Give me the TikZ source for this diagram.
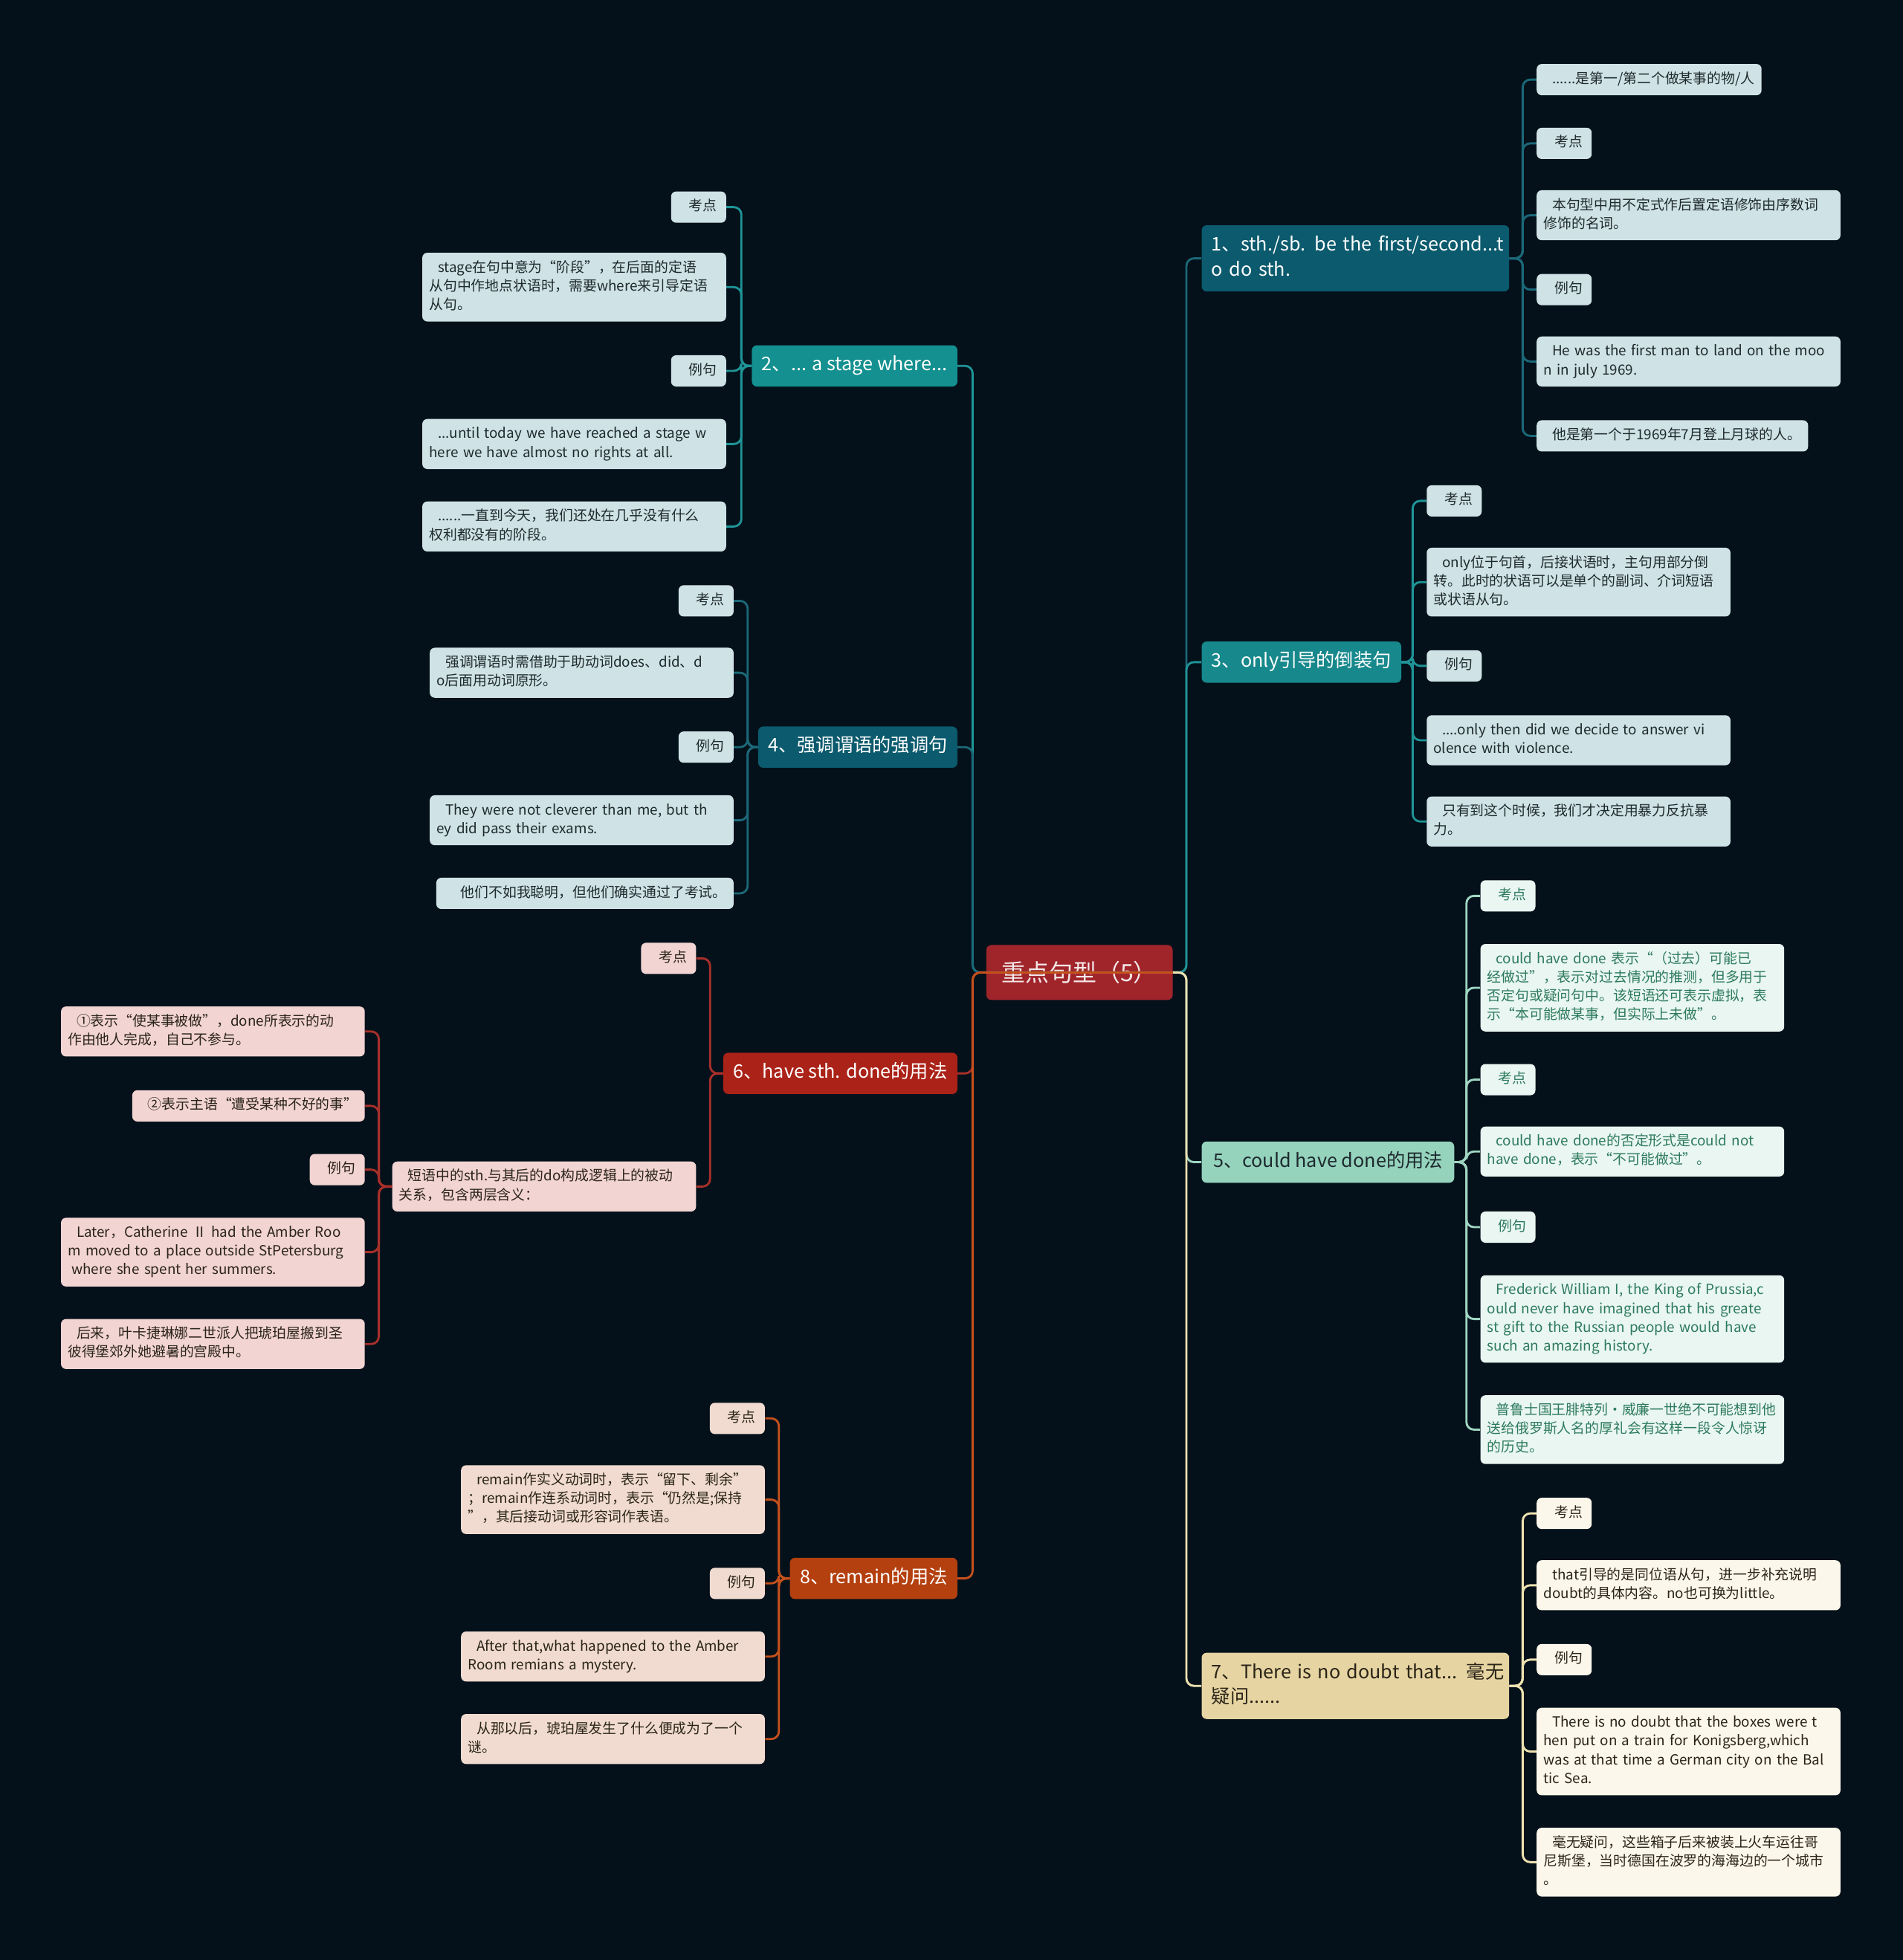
\documentclass[tikz,border=0pt]{standalone}
\usepackage{fontspec}
\setmainfont{Noto Sans CJK SC}
\usetikzlibrary{calc}
\definecolor{bgc}{HTML}{04111A}
\definecolor{cRoot}{HTML}{A0252B}
\definecolor{cRootInk}{HTML}{F4E8E8}
\definecolor{cTealDark}{HTML}{0B5A6D}
\definecolor{cTeal}{HTML}{17888C}
\definecolor{cTealMid}{HTML}{13908F}
\definecolor{cMint}{HTML}{95D3BD}
\definecolor{cCream}{HTML}{E6D4A2}
\definecolor{cRed}{HTML}{AB2318}
\definecolor{cOrange}{HTML}{B4400F}
\definecolor{lBlue}{HTML}{CFE2E5}
\definecolor{lMint}{HTML}{E9F6F1}
\definecolor{lCream}{HTML}{FBF7EA}
\definecolor{lPink}{HTML}{F2D4D3}
\definecolor{lPeach}{HTML}{F1DBD0}
\definecolor{inkDark}{HTML}{1E2A2E}
\definecolor{inkGreen}{HTML}{2D7A5E}
\definecolor{inkBrown}{HTML}{2A2418}
\definecolor{kLineDark}{HTML}{1B6878}
\definecolor{kLineTeal}{HTML}{1F9497}
\definecolor{kLineMint}{HTML}{9FD6C2}
\definecolor{kLineCream}{HTML}{EEE2B0}
\definecolor{kLineRed}{HTML}{A8302A}
\definecolor{kLineOrange}{HTML}{C4501C}
\newcommand{\ind}{\hspace*{7pt}}
\tikzset{
    topicbox/.style={rectangle, rounded corners=4pt, fill=cRoot, text=cRootInk,
        minimum width=149pt, minimum height=44pt, inner sep=0pt,
        font=\fontsize{19}{24}\selectfont},
    branchbox/.style={rectangle, rounded corners=4pt, align=left, inner xsep=8pt, inner ysep=6.5pt,
        font=\fontsize{15}{20}\selectfont,
        execute at begin node=\strut, execute at end node=\strut},
    leafbox/.style={rectangle, rounded corners=4pt, align=left, inner xsep=5.5pt, inner ysep=5pt,
        font=\fontsize{11.2}{15}\selectfont,
        execute at begin node=\strut, execute at end node=\strut},
    wideleaf/.style={leafbox, text width=232pt},
    tagbox/.style={leafbox, minimum width=44pt},
    link/.style={line width=1.7pt, rounded corners=6pt},
    bluefill/.style={fill=lBlue, text=inkDark},
    mintfill/.style={fill=lMint, text=inkGreen},
    creamfill/.style={fill=lCream, text=inkBrown},
    pinkfill/.style={fill=lPink, text=inkBrown},
    peachfill/.style={fill=lPeach, text=inkBrown},
}
\begin{document}
\begin{tikzpicture}[x=1pt, y=-1pt]
    \fill[bgc] (0,0) rectangle (1522,1568);
    % trunks and junction columns
    \coordinate (tl) at (778,0);
    \coordinate (tr) at (949,0);
    \coordinate (j1) at (1218,0);
    \coordinate (j3) at (1130,0);
    \coordinate (j5) at (1173,0);
    \coordinate (j7) at (1218,0);
    \coordinate (j2) at (593,0);
    \coordinate (j4) at (598,0);
    \coordinate (j6) at (568,0);
    \coordinate (j6s) at (303,0);
    \coordinate (j8) at (623,0);

    \node[topicbox] (root) at (863.5,778) {重点句型（5）};

    % right side
    \node[branchbox, text width=230pt, fill=cTealDark, text=white, anchor=north west] (b1) at (961,180)
        {\mbox{1、sth./sb. be the first/second...t}\\o do sth.};
    \node[leafbox, bluefill, anchor=north west] (c1a) at (1229,51) {\ind{}......是第一/第二个做某事的物/人};
    \node[tagbox, bluefill, anchor=north west] (c1b) at (1229,102) {\ind{}考点};
    \node[wideleaf, bluefill, anchor=north west] (c1c) at (1229,152) {\ind{}本句型中用不定式作后置定语修饰由序数词\\修饰的名词。};
    \node[tagbox, bluefill, anchor=north west] (c1d) at (1229,219) {\ind{}例句};
    \node[wideleaf, bluefill, anchor=north west] (c1e) at (1229,269) {\ind{}He was the first man to land on the moo\\n in july 1969.};
    \node[leafbox, bluefill, anchor=north west] (c1f) at (1229,336) {\ind{}他是第一个于1969年7月登上月球的人。};

    \node[branchbox, fill=cTeal, text=white, minimum width=158pt, anchor=north west] (b3) at (961,513)
        {3、only引导的倒装句};
    \node[tagbox, bluefill, anchor=north west] (c3a) at (1141,388) {\ind{}考点};
    \node[wideleaf, bluefill, anchor=north west] (c3b) at (1141,438) {\ind{}only位于句首，后接状语时，主句用部分倒\\转。此时的状语可以是单个的副词、介词短语\\或状语从句。};
    \node[tagbox, bluefill, anchor=north west] (c3c) at (1141,520) {\ind{}例句};
    \node[wideleaf, bluefill, anchor=north west] (c3d) at (1141,572) {\ind{}....only then did we decide to answer vi\\olence with violence.};
    \node[wideleaf, bluefill, anchor=north west] (c3e) at (1141,637) {\ind{}只有到这个时候，我们才决定用暴力反抗暴\\力。};

    \node[branchbox, fill=cMint, text=inkDark, minimum width=202pt, anchor=north west] (b5) at (961,913)
        {5、could have done的用法};
    \node[tagbox, mintfill, anchor=north west] (c5a) at (1184,704) {\ind{}考点};
    \node[wideleaf, mintfill, anchor=north west] (c5b) at (1184,755) {\ind{}could have done 表示“（过去）可能已\\经做过”，表示对过去情况的推测，但多用于\\否定句或疑问句中。该短语还可表示虚拟，表\\示“本可能做某事，但实际上未做”。};
    \node[tagbox, mintfill, anchor=north west] (c5c) at (1184,851) {\ind{}考点};
    \node[wideleaf, mintfill, anchor=north west] (c5d) at (1184,901) {\ind{}could have done的否定形式是could not\\have done，表示“不可能做过”。};
    \node[tagbox, mintfill, anchor=north west] (c5e) at (1184,969) {\ind{}例句};
    \node[wideleaf, mintfill, anchor=north west] (c5f) at (1184,1020) {\ind{}Frederick William I, the King of Prussia,c\\ould never have imagined that his greate\\st gift to the Russian people would have\\such an amazing history.};
    \node[wideleaf, mintfill, anchor=north west] (c5g) at (1184,1116) {\ind{}普鲁士国王腓特列•威廉一世绝不可能想到他\\送给俄罗斯人名的厚礼会有这样一段令人惊讶\\的历史。};

    \node[branchbox, text width=230pt, fill=cCream, text=inkBrown, anchor=north west] (b7) at (961,1322)
        {\mbox{7、There is no doubt that... 毫无}\\疑问......};
    \node[tagbox, creamfill, anchor=north west] (c7a) at (1229,1198) {\ind{}考点};
    \node[wideleaf, creamfill, anchor=north west] (c7b) at (1229,1248) {\ind{}that引导的是同位语从句，进一步补充说明\\doubt的具体内容。no也可换为little。};
    \node[tagbox, creamfill, anchor=north west] (c7c) at (1229,1315) {\ind{}例句};
    \node[wideleaf, creamfill, anchor=north west] (c7d) at (1229,1366) {\ind{}There is no doubt that the boxes were t\\hen put on a train for Konigsberg,which\\was at that time a German city on the Bal\\tic Sea.};
    \node[wideleaf, creamfill, anchor=north west] (c7e) at (1229,1462) {\ind{}毫无疑问，这些箱子后来被装上火车运往哥\\尼斯堡，当时德国在波罗的海海边的一个城市\\。};

    % left side
    \node[branchbox, fill=cTealMid, text=white, minimum width=162pt, anchor=north east] (b2) at (766,276)
        {2、... a stage where...};
    \node[tagbox, bluefill, anchor=north east] (c2a) at (581,153) {\ind{}考点};
    \node[wideleaf, bluefill, anchor=north east] (c2b) at (581,202) {\ind{}stage在句中意为“阶段”，在后面的定语\\从句中作地点状语时，需要where来引导定语\\从句。};
    \node[tagbox, bluefill, anchor=north east] (c2c) at (581,284) {\ind{}例句};
    \node[wideleaf, bluefill, anchor=north east] (c2d) at (581,335) {\ind{}...until today we have reached a stage w\\here we have almost no rights at all.};
    \node[wideleaf, bluefill, anchor=north east] (c2e) at (581,401) {\ind{}......一直到今天，我们还处在几乎没有什么\\权利都没有的阶段。};

    \node[branchbox, fill=cTealDark, text=white, minimum width=156pt, anchor=north east] (b4) at (766,581)
        {4、强调谓语的强调句};
    \node[tagbox, bluefill, anchor=north east] (c4a) at (587,468) {\ind{}考点};
    \node[wideleaf, bluefill, anchor=north east] (c4b) at (587,518) {\ind{}强调谓语时需借助于助动词does、did、d\\o后面用动词原形。};
    \node[tagbox, bluefill, anchor=north east] (c4c) at (587,585) {\ind{}例句};
    \node[wideleaf, bluefill, anchor=north east] (c4d) at (587,636) {\ind{}They were not cleverer than me, but th\\ey did pass their exams.};
    \node[leafbox, bluefill, anchor=north east] (c4e) at (587,702) {\ind{}\ind{}他们不如我聪明，但他们确实通过了考试。};

    \node[branchbox, fill=cRed, text=white, minimum width=187pt, anchor=north east] (b6) at (766,842)
        {6、have sth. done的用法};
    \node[tagbox, pinkfill, anchor=north east] (c6a) at (557,754) {\ind{}考点};
    \node[wideleaf, pinkfill, anchor=north east] (c6b) at (557,929) {\ind{}短语中的sth.与其后的do构成逻辑上的被动\\关系，包含两层含义：};
    \node[wideleaf, pinkfill, anchor=north east] (g6a) at (292,805) {\ind{}①表示“使某事被做”，done所表示的动\\作由他人完成，自己不参与。};
    \node[leafbox, pinkfill, anchor=north east] (g6b) at (292,872) {\ind{}②表示主语“遭受某种不好的事”};
    \node[tagbox, pinkfill, anchor=north east] (g6c) at (292,923) {\ind{}例句};
    \node[wideleaf, pinkfill, anchor=north east] (g6d) at (292,974) {\ind{}Later，Catherine Ⅱ had the Amber Roo\\m moved to a place outside StPetersburg\\\hspace*{3pt}where she spent her summers.};
    \node[wideleaf, pinkfill, anchor=north east] (g6e) at (292,1055) {\ind{}后来，叶卡捷琳娜二世派人把琥珀屋搬到圣\\彼得堡郊外她避暑的宫殿中。};

    \node[branchbox, fill=cOrange, text=white, minimum width=132pt, anchor=north east] (b8) at (766,1246)
        {8、remain的用法};
    \node[tagbox, peachfill, anchor=north east] (c8a) at (612,1122) {\ind{}考点};
    \node[wideleaf, peachfill, anchor=north east] (c8b) at (612,1172) {\ind{}remain作实义动词时，表示“留下、剩余”\\；remain作连系动词时，表示“仍然是;保持\\”，其后接动词或形容词作表语。};
    \node[tagbox, peachfill, anchor=north east] (c8c) at (612,1254) {\ind{}例句};
    \node[wideleaf, peachfill, anchor=north east] (c8d) at (612,1305) {\ind{}After that,what happened to the Amber\\Room remians a mystery.};
    \node[wideleaf, peachfill, anchor=north east] (c8e) at (612,1371) {\ind{}从那以后，琥珀屋发生了什么便成为了一个\\谜。};

    % main connectors
    \draw[link, kLineDark] (root.east) -- (root.east -| tr) |- (b1.west);
    \draw[link, kLineTeal] (root.east) -- (root.east -| tr) |- (b3.west);
    \draw[link, kLineMint] (root.east) -- (root.east -| tr) |- (b5.west);
    \draw[link, kLineCream] (root.east) -- (root.east -| tr) |- (b7.west);
    \draw[link, kLineTeal] (root.east) -- (root.east -| tl) |- (b2.east);
    \draw[link, kLineDark] (root.east) -- (root.east -| tl) |- (b4.east);
    \draw[link, kLineRed] (root.east) -- (root.east -| tl) |- (b6.east);
    \draw[link, kLineOrange] (root.east) -- (root.east -| tl) |- (b8.east);

    % leaf connectors
    \foreach \k in {c1a, c1b, c1c, c1d, c1e, c1f}
        \draw[link, kLineDark] (b1.east) -- (b1.east -| j1) |- (\k.west);
    \foreach \k in {c3a, c3b, c3c, c3d, c3e}
        \draw[link, kLineTeal] (b3.east) -- (b3.east -| j3) |- (\k.west);
    \foreach \k in {c5a, c5b, c5c, c5d, c5e, c5f, c5g}
        \draw[link, kLineMint] (b5.east) -- (b5.east -| j5) |- (\k.west);
    \foreach \k in {c7a, c7b, c7c, c7d, c7e}
        \draw[link, kLineCream] (b7.east) -- (b7.east -| j7) |- (\k.west);
    \foreach \k in {c2a, c2b, c2c, c2d, c2e}
        \draw[link, kLineTeal] (b2.west) -- (b2.west -| j2) |- (\k.east);
    \foreach \k in {c4a, c4b, c4c, c4d, c4e}
        \draw[link, kLineDark] (b4.west) -- (b4.west -| j4) |- (\k.east);
    \foreach \k in {c6a, c6b}
        \draw[link, kLineRed] (b6.west) -- (b6.west -| j6) |- (\k.east);
    \foreach \k in {g6a, g6b, g6c, g6d, g6e}
        \draw[link, kLineRed] (c6b.west) -- (c6b.west -| j6s) |- (\k.east);
    \foreach \k in {c8a, c8b, c8c, c8d, c8e}
        \draw[link, kLineOrange] (b8.west) -- (b8.west -| j8) |- (\k.east);
\end{tikzpicture}
\end{document}
